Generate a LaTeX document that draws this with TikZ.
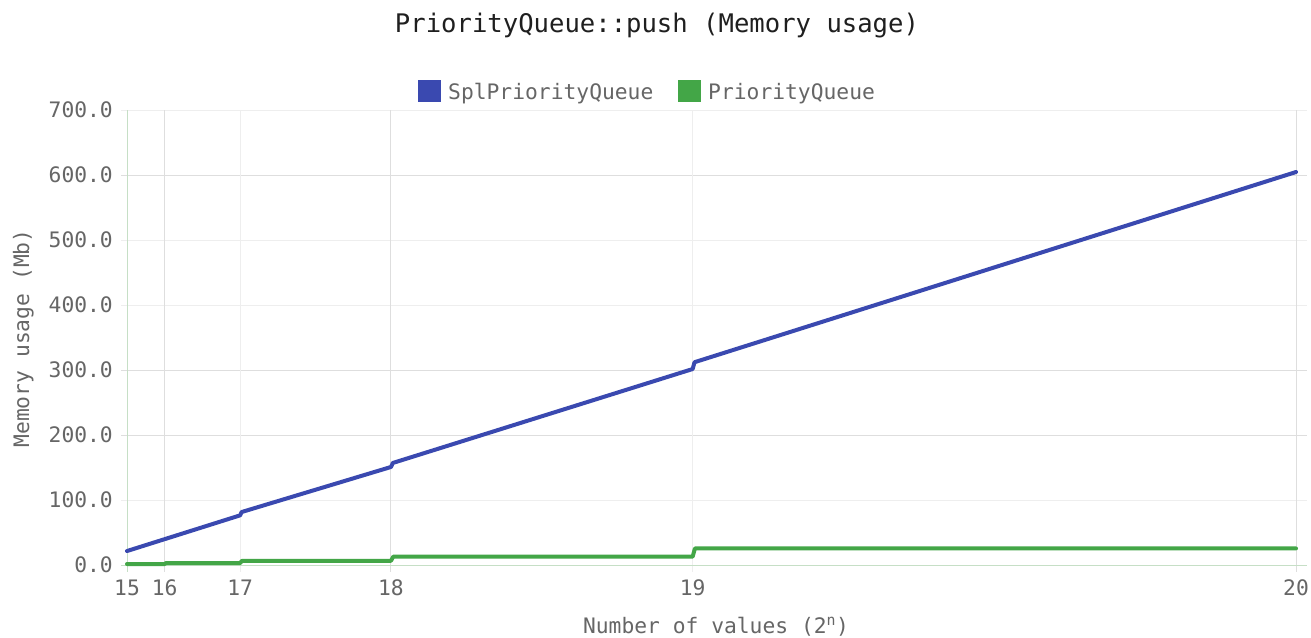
\documentclass[tikz,border=0pt]{standalone}
\usepackage{fontspec}
\setmainfont{DejaVu Sans Mono}
\definecolor{titlecol}{HTML}{1F1F1F}
\definecolor{labelcol}{HTML}{666666}
\definecolor{griddark}{HTML}{DEDEDE}
\definecolor{gridlight}{HTML}{EEEEEE}
\definecolor{axiscol}{HTML}{C6DFC6}
\definecolor{bluecol}{HTML}{3A49B0}
\definecolor{greencol}{HTML}{43A647}
\tikzset{
  lbl/.style={text=labelcol, inner sep=0pt, font=\fontsize{21.3}{25}\selectfont},
  ttl/.style={text=titlecol, inner sep=0pt, font=\fontsize{25.6}{30}\selectfont},
  gdark/.style={draw=griddark, line width=1pt},
  glight/.style={draw=gridlight, line width=1pt},
  axisline/.style={draw=axiscol, line width=1pt},
  series/.style={line width=4pt, line join=round, line cap=round},
}
\begin{document}
\begin{tikzpicture}[x=1pt, y=-1pt]
\useasboundingbox[fill=white] (0,0) rectangle (1311,637);
% title
\node[ttl, anchor=base] (title) at (657,32) {PriorityQueue::push (Memory usage)};
% legend
\fill[bluecol] (418,80) rectangle (441,102);
\node[lbl, anchor=base west] (legA) at (448,99) {SplPriorityQueue};
\fill[greencol] (678,80) rectangle (701,102);
\node[lbl, anchor=base west] (legB) at (708,99) {PriorityQueue};
% plot area: k = N/32768, v = Mb
\begin{scope}[shift={(127,565)}, x=37.7097pt, y=0.65pt]
  % horizontal grid
  \foreach \v/\s in {100/glight,200/gdark,300/gdark,400/glight,500/glight,600/gdark,700/glight}
    \draw[\s] (-6/37.7097,\v) -- (31+11/37.7097,\v);
  % vertical grid
  \foreach \k/\s in {2/gdark,4/glight,8/gdark,16/glight,32/gdark}
    \draw[\s] (\k-1,700) -- (\k-1,-7/0.65);
  % axes
  \draw[axisline] (0,700) -- (0,-7/0.65);
  \draw[axisline] (-6/37.7097,0) -- (31+11/37.7097,0);
  % y tick labels
  \foreach \v in {0,100,200,300,400,500,600,700}
    \node[lbl, anchor=east] at (-14/37.7097,\v) {\v.0};
  % x tick labels
  \foreach \k/\n in {1/15,2/16,4/17,8/18,16/19,32/20}
    \node[lbl, anchor=base] at (\k-1,-30/0.65) {\n};
  % PriorityQueue series
  \draw[series, greencol]
    (0,1.5) -- (1,1.5) -- (1.03,3) -- (3,3) -- (3.05,6.5) -- (7,6.5)
    -- (7.06,12.8) -- (15,12.8) -- (15.06,25.5) -- (31,25.5);
  % SplPriorityQueue series
  \draw[series, bluecol]
    (0,21.5) -- (3,76.4) -- (3.04,81.5) -- (7,150.8) -- (7.05,157)
    -- (15,301.5) -- (15.05,312) -- (31,604.6);
\end{scope}
% axis titles
\node[lbl, anchor=base] (xtitle) at (716,633) {Number of values (2\textsuperscript{n})};
\node[lbl, anchor=base, rotate=90] (ytitle) at (29,338.5) {Memory usage (Mb)};
\end{tikzpicture}
\end{document}
